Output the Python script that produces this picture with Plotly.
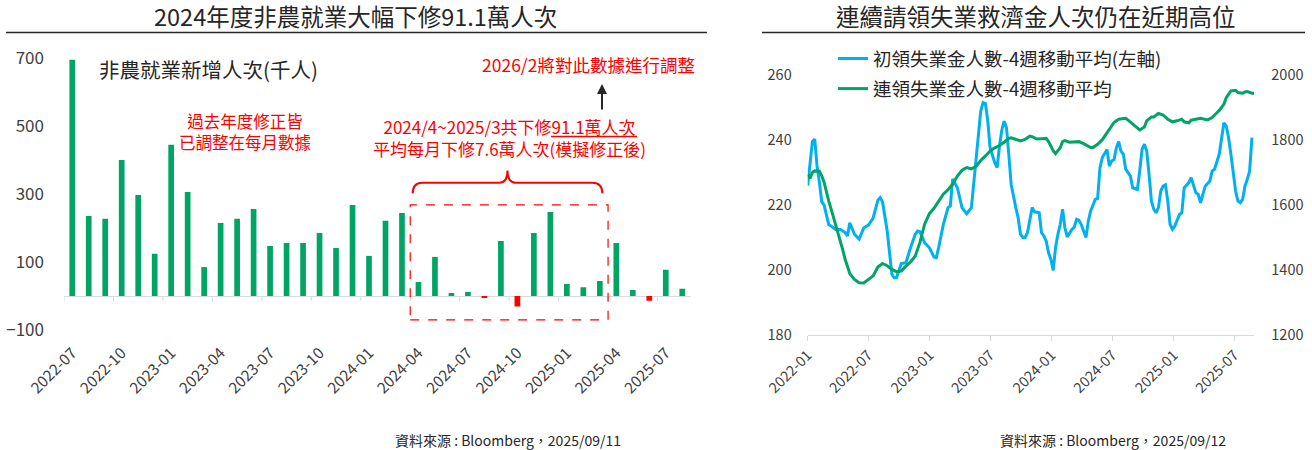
import numpy as np
import pandas as pd
import plotly.graph_objects as go

# ---- left: non-farm payrolls, monthly change (thousand) ----
months = [
    "2022-07", "2022-08", "2022-09", "2022-10", "2022-11", "2022-12",
    "2023-01", "2023-02", "2023-03", "2023-04", "2023-05", "2023-06",
    "2023-07", "2023-08", "2023-09", "2023-10", "2023-11", "2023-12",
    "2024-01", "2024-02", "2024-03", "2024-04", "2024-05", "2024-06",
    "2024-07", "2024-08", "2024-09", "2024-10", "2024-11", "2024-12",
    "2025-01", "2025-02", "2025-03", "2025-04", "2025-05", "2025-06",
    "2025-07", "2025-08",
]
nfp = [
    695, 235, 227, 400, 297, 124,
    445, 306, 85, 215, 227, 256,
    147, 156, 156, 185, 141, 268,
    118, 221, 244, 41, 115, 9,
    12, -4, 162, -31, 185, 247,
    35, 26, 44, 156, 18, -14,
    77, 21,
]
month_labels = months[::3]
revised_first, revised_last = "2024-04", "2025-03"

# ---- right: jobless claims, 4-week moving averages (thousand) ----
claims_start = "2022-01-01"
ic_week = [
    0, 1, 2, 3, 4, 5, 6, 7, 8, 9, 10, 12, 14, 16, 17, 18, 20, 22, 24, 26,
    28, 30, 31, 32, 34, 36, 37, 38, 40, 42, 44, 46, 47, 48, 50, 52, 54, 55,
    56, 58, 60, 61, 62, 64, 66, 68, 70, 72, 74, 75, 76, 77, 78, 80, 81, 82,
    83, 84, 85, 86, 87, 89, 90, 91, 92, 93, 94, 96, 97, 99, 100, 101, 102,
    103, 104, 105, 106, 107, 108, 109, 110, 111, 113, 114, 115, 116, 117,
    119, 120, 121, 123, 124, 125, 126, 128, 129, 130, 131, 132, 133, 134,
    135, 136, 137, 138, 139, 141, 142, 143, 144, 145, 146, 147, 148, 149,
    150, 151, 152, 153, 154, 155, 156, 157, 159, 160, 161, 163, 164, 166,
    167, 168, 170, 172, 173, 174, 176, 177, 178, 179, 180, 181, 182, 183,
    184, 185, 186, 187, 188, 189, 190, 191,
]
ic_val = [
    226, 234, 239.5, 240.3, 232, 227, 221, 220, 217, 214, 213.5, 212.5,
    212.5, 211.5, 210.5, 214.5, 211, 209.5, 213, 213.8,
    216, 221.5, 222.3, 221, 212, 198.7, 197.6, 197.6, 202, 202.2, 206.9,
    211, 212, 211.8, 208.4, 206.9, 204, 203.8,
    206.9, 214, 219.2, 219.7, 228, 225.3, 219.2, 217.3, 219.2, 233.5,
    248.9, 251.5, 251.2, 246, 237.6, 233, 231.5, 238,
    243, 245.8, 243.8, 235.6, 226.4, 219.2, 216.1, 211, 210, 210, 211.5,
    219.2, 217.9, 217.6, 211.5, 210.5, 208.9,
    205.3, 203.3, 199.9, 206.9, 211, 214, 218.7, 213, 210.2, 212.5,
    213.2, 215.6, 215.3,
    214, 210, 215, 218.2, 221.7, 222, 231.5, 234.6, 237.1, 232, 233.5,
    234, 237.6, 239.5,
    236.6, 235.6, 231, 230, 228.9, 225.3, 224.8, 230.5, 237.1, 238.7,
    236.6, 229.4, 221.2, 218.7,
    217.6, 219.2, 224.3, 225.8, 226.2, 221.2, 214, 212.5, 213.5, 217.1,
    217.6, 225.3, 226.9, 228.4,
    223.8, 223.3, 220.7, 225.8, 227.4, 230.5, 231, 235.6, 240.7, 245.3,
    244.3, 240.7, 235.6, 228.9,
    224.3, 221.2, 220.7, 221.7, 225.8, 227.9, 230.5, 240.7,
]
cc_week = [
    0, 1, 2, 3, 5, 6, 7, 8, 9, 10, 12, 14, 15, 16, 18, 20, 22, 24, 26, 28,
    30, 32, 34, 36, 38, 40, 42, 44, 46, 48, 50, 52, 54, 56, 58, 60, 62, 64,
    66, 68, 70, 72, 74, 76, 78, 80, 82, 84, 86, 87, 89, 91, 93, 95, 96, 98,
    100, 102, 103, 104, 105, 106, 108, 109, 110, 112, 114, 116, 118, 120,
    121, 122, 123, 124, 126, 128, 129, 130, 131, 133, 136, 137, 139, 141,
    142, 144, 145, 147, 148, 150, 152, 154, 156, 158, 160, 161, 163, 164,
    166, 168, 171, 173, 175, 176, 178, 179, 181, 183, 184, 186, 187, 188,
    190, 191,
]
cc_val = [
    1695, 1682, 1700, 1705, 1704, 1690, 1670, 1636, 1612, 1588, 1540, 1487,
    1462, 1433, 1389, 1371, 1361, 1360, 1371, 1382,
    1409, 1420, 1413, 1402, 1395, 1397, 1412, 1425, 1443, 1485, 1541, 1573,
    1590, 1612, 1633, 1647, 1664, 1689,
    1707, 1715, 1711, 1719, 1737, 1751, 1766, 1776, 1783, 1793, 1805, 1807,
    1802, 1797, 1802, 1812, 1810, 1803,
    1804, 1805, 1795, 1780, 1767, 1758, 1776, 1795, 1798, 1793, 1794, 1795,
    1789, 1782,
    1777, 1777, 1782, 1787, 1801, 1822, 1834, 1843, 1854, 1864, 1867, 1861,
    1848, 1838,
    1831, 1840, 1859, 1871, 1871, 1882, 1877, 1864, 1856, 1859, 1864, 1856,
    1853, 1861,
    1864, 1867, 1862, 1869, 1884, 1891, 1910, 1930, 1951, 1953, 1946, 1944,
    1948, 1949,
    1944, 1944,
]

GREEN = "#00a566"
BLUE = "#00b0f0"
RED = "#ff0000"
DARK = "#262626"
AXIS = "#404040"
LINE = "#d9d9d9"
FONT = "Noto Sans CJK TC"
W, H = 1312, 450


def px(x):
    return x / W


def py(y):
    return 1 - y / H


idx = list(range(len(months)))
ic_dates = pd.Timestamp(claims_start) + pd.to_timedelta(np.array(ic_week) * 7, unit="D")
cc_dates = pd.Timestamp(claims_start) + pd.to_timedelta(np.array(cc_week) * 7, unit="D")

fig = go.Figure()
fig.add_trace(
    go.Bar(
        x=idx,
        y=nfp,
        marker=dict(color=[GREEN if v >= 0 else RED for v in nfp], line_width=0),
        xaxis="x",
        yaxis="y",
        showlegend=False,
        hoverinfo="skip",
    )
)
fig.add_trace(
    go.Scatter(
        x=ic_dates,
        y=ic_val,
        mode="lines",
        line=dict(color=BLUE, width=3),
        name="初領失業金人數-4週移動平均(左軸)",
        legendgroup="a",
        xaxis="x2",
        yaxis="y2",
    )
)
fig.add_trace(
    go.Scatter(
        x=cc_dates,
        y=cc_val,
        mode="lines",
        line=dict(color=GREEN, width=3),
        name="連領失業金人數-4週移動平均",
        legendgroup="b",
        xaxis="x2",
        yaxis="y3",
    )
)

# category boundaries every quarter, drawn as small ticks on the zero line
shapes = []
for b in np.arange(-0.5, len(months) - 1, 3):
    shapes.append(dict(
        type="line", xref="x", yref="y", x0=b, x1=b,
        ysizemode="pixel", yanchor=0, y0=0, y1=-5,
        line=dict(color=LINE, width=1),
    ))

# dashed box around the revised months
r0 = months.index(revised_first) - 0.5
r1 = months.index(revised_last) + 0.5
shapes.append(dict(
    type="rect", xref="x", yref="y", x0=r0, x1=r1, y0=-70, y1=268,
    line=dict(color=RED, width=1.2, dash="dash"),
))

# curly brace above the box
bl, br = r0 + 0.15, r1 - 0.35
bc = (bl + br) / 2
ye, yh, yp = 302, 333, 369
brace = (
    f"M{bl},{ye} Q{bl},{yh} {bl + 0.6},{yh} L{bc - 0.5},{yh} "
    f"Q{bc},{yh} {bc},{yp} Q{bc},{yh} {bc + 0.5},{yh} "
    f"L{br - 0.6},{yh} Q{br},{yh} {br},{ye}"
)
shapes.append(dict(type="path", xref="x", yref="y", path=brace,
                   line=dict(color=RED, width=2)))

# underline below "91.1萬人次"
shapes.append(dict(type="line", xref="paper", yref="paper",
                   x0=px(551), x1=px(637), y0=py(136.5), y1=py(136.5),
                   line=dict(color=RED, width=1.3)))

# title underlines
shapes.append(dict(type="line", xref="paper", yref="paper",
                   x0=px(6), x1=px(707), y0=py(32.5), y1=py(32.5),
                   line=dict(color=DARK, width=1.3)))
shapes.append(dict(type="line", xref="paper", yref="paper",
                   x0=px(762), x1=px(1305), y0=py(32.5), y1=py(32.5),
                   line=dict(color=DARK, width=1.3)))


def note(text, x, y, size, color=DARK, xanchor="center"):
    return dict(text=text, x=px(x), y=py(y), xref="paper", yref="paper",
                xanchor=xanchor, yanchor="middle", showarrow=False,
                font=dict(size=size, color=color, family=FONT))


annotations = [
    note("2024年度非農就業大幅下修91.1萬人次", 355, 15.5, 23.5),
    note("連續請領失業救濟金人次仍在近期高位", 1036, 15.5, 23.5),
    note("非農就業新增人次(千人)", 97, 69, 20.5, xanchor="left"),
    note("過去年度修正皆<br>已調整在每月數據", 245, 131.5, 16.5, RED),
    note("2024/4~2025/3共下修91.1萬人次<br>"
         "平均每月下修7.6萬人次(模擬修正後)", 509, 137.5, 17, RED),
    note("2026/2將對此數據進行調整", 588, 65, 17.5, RED),
    note("資料來源 : Bloomberg，2025/09/11", 508, 440, 14),
    note("資料來源 : Bloomberg，2025/09/12", 1113, 440, 14),
    dict(text="", x=px(602), y=py(84), xref="paper", yref="paper",
         showarrow=True, ax=0, ay=27, arrowhead=2, arrowsize=1,
         arrowwidth=2, arrowcolor=DARK, standoff=0),
]

fig.update_layout(
    width=W,
    height=H,
    margin=dict(l=0, r=0, t=0, b=0),
    paper_bgcolor="white",
    plot_bgcolor="white",
    font=dict(family=FONT, color=AXIS),
    bargap=0.655,
    shapes=shapes,
    annotations=annotations,
    xaxis=dict(
        domain=[px(64), px(690.5)],
        anchor="y",
        automargin=False,
        range=[-0.5, len(months) - 0.5],
        tickmode="array",
        tickvals=idx[::3],
        ticktext=month_labels,
        tickangle=-45,
        ticks="",
        ticklabelstandoff=10,
        showline=False,
        showgrid=False,
        zeroline=False,
        tickfont=dict(size=15.5, color=AXIS),
    ),
    yaxis=dict(
        domain=[py(330), py(58)],
        anchor="x",
        automargin=False,
        range=[-100, 700],
        tickmode="array",
        tickvals=[-100, 100, 300, 500, 700],
        showgrid=False,
        zeroline=True,
        zerolinecolor=LINE,
        zerolinewidth=1,
        ticks="",
        ticklabelstandoff=19,
        tickfont=dict(size=17, color=AXIS),
    ),
    xaxis2=dict(
        domain=[px(807.7), px(1254.3)],
        anchor="y2",
        automargin=False,
        type="date",
        range=["2022-01-01", "2025-08-30"],
        tick0="2022-01-01",
        dtick="M6",
        tickformat="%Y-%m",
        tickangle=-45,
        ticks="outside",
        ticklen=5,
        tickcolor=LINE,
        showline=True,
        linecolor=LINE,
        linewidth=1,
        showgrid=False,
        zeroline=False,
        tickfont=dict(size=14.5, color=AXIS),
    ),
    yaxis2=dict(
        domain=[py(335), py(75)],
        anchor="x2",
        automargin=False,
        range=[180, 260],
        dtick=20,
        tick0=180,
        showgrid=False,
        zeroline=False,
        ticks="",
        ticklabelstandoff=15,
        tickfont=dict(size=14.5, color=AXIS),
    ),
    yaxis3=dict(
        overlaying="y2",
        anchor="x2",
        side="right",
        automargin=False,
        range=[1200, 2000],
        dtick=200,
        tick0=1200,
        showgrid=False,
        zeroline=False,
        ticks="",
        ticklabelstandoff=16,
        tickfont=dict(size=14.5, color=AXIS),
    ),
    legend=dict(
        x=px(833),
        y=py(40),
        xanchor="left",
        yanchor="top",
        traceorder="grouped",
        tracegroupgap=3,
        itemwidth=30,
        bgcolor="rgba(0,0,0,0)",
        font=dict(size=18.5, color=DARK, family=FONT),
    ),
)

# the page body has a default 8px margin; drop it so the figure fills the window
fig.write_html(
    "out.html",
    config={"displayModeBar": False},
    post_script="document.body.style.margin = '0';",
)
